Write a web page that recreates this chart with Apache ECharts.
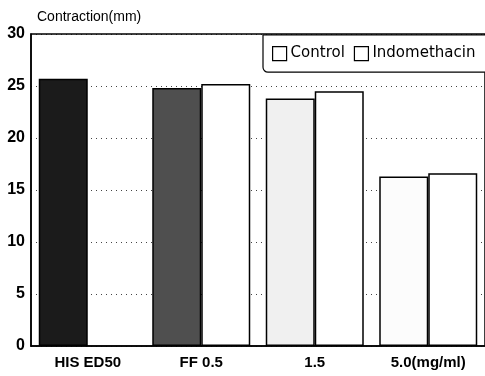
<!DOCTYPE html>
<html>
<head>
<meta charset="utf-8">
<script src="https://cdn.jsdelivr.net/npm/echarts@6/dist/echarts.min.js"></script>
<style>
  html, body { margin: 0; padding: 0; background: #fff; }
  #chart { width: 485px; height: 376px; }
</style>
</head>
<body>
<div id="chart"></div>
<script>
const categories = ["HIS ED50", "FF 0.5", "1.5", "5.0(mg/ml)"];
const control = [25.7, 24.8, 23.8, 16.3];
const indomethacin = ["-", 25.2, 24.5, 16.6];
const yTicks = [0, 5, 10, 15, 20, 25, 30];

// scanned fill shades of the control bars, darkest to lightest
const controlFill = ["#1b1b1b", "#4f4f4f", "#f0f0f0", "#fcfcfc"];

const chart = echarts.init(document.getElementById("chart"));

const option = {
  animation: false,
  backgroundColor: "#fff",
  title: {
    text: "Contraction(mm)",
    left: 32,
    top: 5,
    textStyle: {
      fontFamily: "Liberation Sans, Arial, sans-serif",
      fontSize: 14,
      fontWeight: "normal",
      color: "#000",
    },
  },
  legend: {
    orient: "horizontal",
    left: 263,
    top: 35,
    width: 300,
    data: ["Control", "Indomethacin"],
    icon: "rect",
    itemWidth: 14,
    itemHeight: 14,
    itemGap: 9,
    padding: [11, 40, 11, 9],
    backgroundColor: "#fff",
    borderColor: "#000",
    borderWidth: 1.2,
    borderRadius: [0, 0, 0, 5],
    itemStyle: { color: "#fff", borderColor: "#000", borderWidth: 1.2 },
    textStyle: {
      fontFamily: "DejaVu Sans, sans-serif",
      fontSize: 15,
      color: "#000",
      padding: [0, 0, 0, -1],
    },
  },
  grid: {
    left: 31,
    top: 34,
    width: 456,
    bottom: 30,
    show: true,
    borderColor: "#000",
    borderWidth: 1.5,
    z: 1,
  },
  xAxis: {
    type: "category",
    data: categories,
    axisLine: { lineStyle: { color: "#000", width: 1.5 } },
    axisTick: { show: false },
    axisLabel: {
      color: "#000",
      fontFamily: "Liberation Sans, Arial, sans-serif",
      fontWeight: "bold",
      fontSize: 15,
      margin: 9,
    },
  },
  yAxis: {
    type: "value",
    min: yTicks[0],
    max: yTicks[yTicks.length - 1],
    interval: 5,
    axisLine: { show: true, lineStyle: { color: "#000", width: 1.5 } },
    axisTick: { show: false },
    axisLabel: {
      color: "#000",
      fontFamily: "Liberation Sans, Arial, sans-serif",
      fontWeight: "bold",
      fontSize: 16,
      margin: 6,
    },
    splitLine: {
      show: true,
      lineStyle: { color: "#444", type: [1, 4], width: 1 },
    },
  },
  series: [
    {
      name: "Control",
      type: "bar",
      data: control.map((v, i) => ({
        value: v,
        itemStyle: { color: controlFill[i] },
      })),
      barWidth: 49,
      barGap: "0%",
      itemStyle: { borderColor: "#000", borderWidth: 1.5, color: "#fff" },
    },
    {
      name: "Indomethacin",
      type: "bar",
      data: indomethacin,
      barWidth: 49,
      itemStyle: { color: "#fff", borderColor: "#000", borderWidth: 1.5 },
    },
  ],
};

chart.setOption(option);
</script>
</body>
</html>
